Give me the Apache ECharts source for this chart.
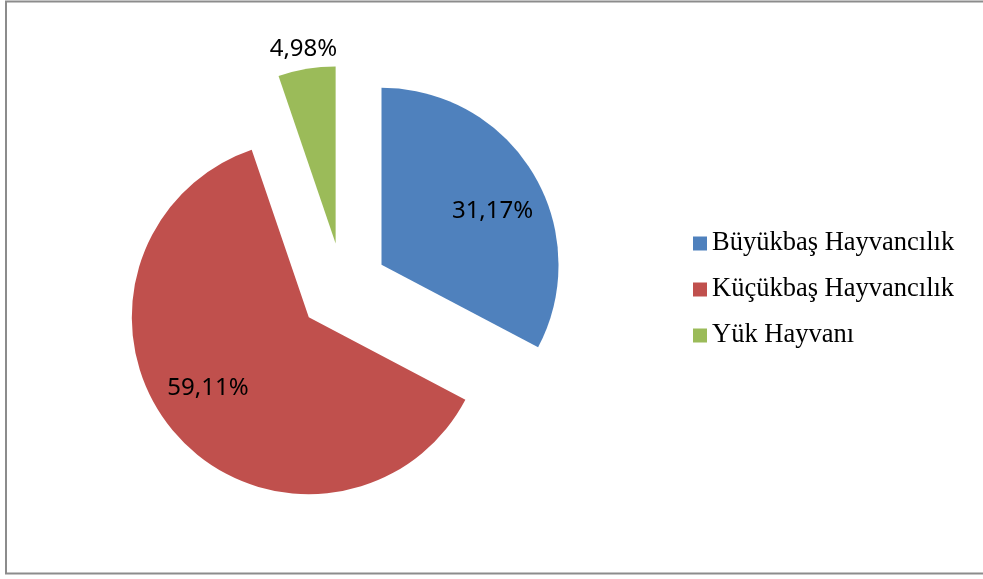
<!DOCTYPE html>
<html>
<head>
<meta charset="utf-8">
<script src="https://cdn.jsdelivr.net/npm/echarts@6/dist/echarts.min.js"></script>
<style>
  html, body { margin: 0; padding: 0; background: #fff; }
  #chart { width: 983px; height: 579px; }
</style>
</head>
<body>
<div id="chart"></div>
<script>
// veriler
const categories = ['Büyükbaş Hayvancılık', 'Küçükbaş Hayvancılık', 'Yük Hayvanı'];
const values = [31.17, 59.11, 4.98];
const colors = ['#4f81bd', '#c0504d', '#9bbb59'];
const innerLabels = [true, true, false]; // dilim içindeki etiketler
const outerLabels = [false, false, true]; // dilim dışındaki etiketler

const CENTER = [343, 288];
const RADIUS = 177;
const EXPLODE = 45;

const fmt = (p) => p.value.toFixed(2).replace('.', ',') + '%';

const labelStyle = {
    color: '#000',
    fontFamily: 'Noto Sans',
    fontSize: 24,
    formatter: fmt,
};

function buildData(showLabels, transparent) {
    return categories.map((name, i) => ({
        name,
        value: values[i],
        selected: true,
        itemStyle: { color: transparent ? 'rgba(0,0,0,0)' : colors[i] },
        label: { show: showLabels ? showLabels[i] : false },
    }));
}

const baseSeries = {
    type: 'pie',
    center: CENTER,
    startAngle: 90,
    clockwise: true,
    selectedMode: 'multiple',
    selectedOffset: EXPLODE,
    avoidLabelOverlap: false,
    silent: true,
    labelLine: { show: false },
    emphasis: { disabled: true },
};

const chart = echarts.init(document.getElementById('chart'), null, { renderer: 'canvas' });

chart.setOption({
    animation: false,
    backgroundColor: '#fff',
    graphic: [{
        type: 'rect',
        shape: { x: 6, y: 1.5, width: 990, height: 572 },
        style: { fill: 'none', stroke: '#8c8c8c', lineWidth: 2 },
        silent: true,
    }],
    legend: {
        orient: 'vertical',
        left: 693,
        top: 230,
        padding: 0,
        icon: 'rect',
        itemWidth: 14,
        itemHeight: 14,
        itemGap: 19,
        selectedMode: false,
        data: categories,
        textStyle: {
            color: '#000',
            fontFamily: 'Liberation Serif',
            fontSize: 26.5,
            lineHeight: 26,
        },
    },
    series: [
        Object.assign({}, baseSeries, {
            name: 'main',
            radius: [0, RADIUS],
            label: { show: false },
            data: buildData(null, false),
        }),
        // Excel etiketleri biraz saat yönünde kaymış, o yüzden başlangıç açısı 86
        Object.assign({}, baseSeries, {
            name: 'inner labels',
            startAngle: 86,
            radius: [63, RADIUS],
            label: Object.assign({ position: 'inside' }, labelStyle),
            data: buildData(innerLabels, true),
        }),
        Object.assign({}, baseSeries, {
            name: 'outer labels',
            radius: [RADIUS, 211],
            label: Object.assign({ position: 'inside' }, labelStyle),
            data: buildData(outerLabels, true),
        }),
    ],
});
</script>
</body>
</html>
